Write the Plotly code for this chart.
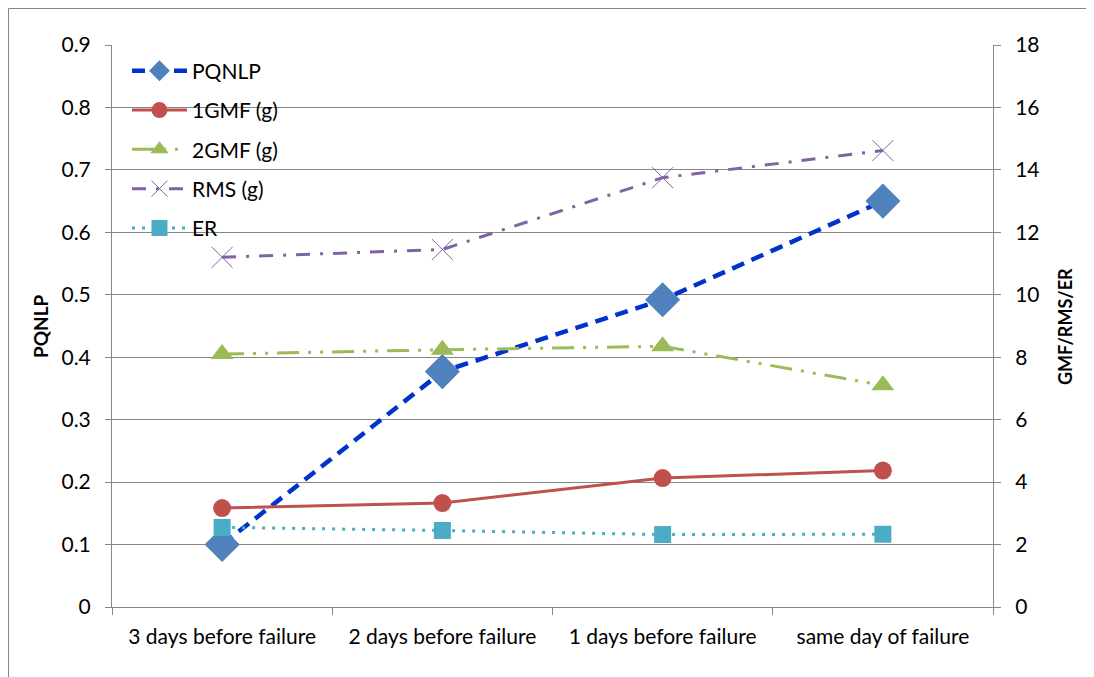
import plotly.graph_objects as go

categories = ["3 days before failure", "2 days before failure", "1 days before failure", "same day of failure"]
pqnlp = [0.10, 0.377, 0.492, 0.65]
gmf1 = [3.17, 3.33, 4.13, 4.37]
gmf2 = [8.1, 8.24, 8.35, 7.1]
rms = [11.2, 11.45, 13.75, 14.62]
er = [2.55, 2.45, 2.32, 2.33]

FONT = "Lato"
GRID = "#868686"
FS = 21

fig = go.Figure()

fig.add_trace(go.Scatter(
    x=categories, y=pqnlp, name="PQNLP", yaxis="y", mode="lines+markers",
    line=dict(color="#0033CC", width=4.5, dash="13px,8px"),
    marker=dict(symbol="diamond", size=27, color="#4F81BD"),
    legendgroup="a"))
fig.add_trace(go.Scatter(
    x=categories, y=gmf1, name="1GMF (g)", yaxis="y2", mode="lines+markers",
    line=dict(color="#C0504D", width=3),
    marker=dict(symbol="circle", size=18, color="#C0504D"),
    legendgroup="b"))
fig.add_trace(go.Scatter(
    x=categories, y=gmf2, name="2GMF (g)", yaxis="y2", mode="lines+markers",
    line=dict(color="#9BBB59", width=3, dash="22px,9px,3px,9px,3px,9px"),
    marker=dict(symbol="triangle-up", size=20, color="#9BBB59"),
    legendgroup="c"))
fig.add_trace(go.Scatter(
    x=categories, y=rms, name="RMS (g)", yaxis="y2", mode="lines+markers",
    line=dict(color="#8064A2", width=3, dash="14px,10px,3px,10px"),
    marker=dict(symbol="x-thin", size=21, color="#8064A2", line=dict(color="#8064A2", width=1)),
    legendgroup="d"))
fig.add_trace(go.Scatter(
    x=categories, y=er, name="ER", yaxis="y2", mode="lines+markers",
    line=dict(color="#4BACC6", width=3, dash="3px,7px"),
    marker=dict(symbol="square", size=17, color="#4BACC6"),
    legendgroup="e"))

fig.update_layout(
    width=1086, height=669,
    margin=dict(l=104, r=101, t=37, b=70),
    paper_bgcolor="white", plot_bgcolor="white",
    font=dict(family=FONT, size=FS, color="#000000"),
    showlegend=True,
    legend=dict(x=0.017, y=0.99, xanchor="left", yanchor="top",
                bgcolor="rgba(0,0,0,0)", font=dict(size=FS),
                traceorder="grouped", tracegroupgap=9, itemwidth=55),
    xaxis=dict(type="category", range=[-0.5, 3.5], showgrid=False,
               showline=True, linecolor=GRID, linewidth=1,
               ticks="outside", ticklen=7, tickcolor=GRID, tickson="boundaries",
               tickfont=dict(size=FS), ticklabelstandoff=11, zeroline=False),
    yaxis=dict(range=[0, 0.9], dtick=0.1, tickformat=".1~f",
               showgrid=True, gridcolor=GRID, gridwidth=1,
               showline=True, linecolor=GRID, linewidth=1,
               ticks="outside", ticklen=6, tickcolor=GRID,
               tickfont=dict(size=FS), ticklabelstandoff=10, zeroline=False),
    yaxis2=dict(range=[0, 18], dtick=2, overlaying="y", side="right",
                showgrid=False, showline=True, linecolor=GRID, linewidth=1,
                ticks="outside", ticklen=7, tickcolor=GRID,
                tickfont=dict(size=FS), ticklabelstandoff=10, zeroline=False),
    annotations=[
        dict(text="<b>PQNLP</b>", x=-0.0817, y=0.5, xref="paper", yref="paper",
             textangle=-90, showarrow=False, font=dict(size=19),
             xanchor="center", yanchor="middle"),
        dict(text="<b>GMF/RMS/ER</b>", x=1.0817, y=0.5, xref="paper", yref="paper",
             textangle=-90, showarrow=False, font=dict(size=18),
             xanchor="center", yanchor="middle"),
    ],
    shapes=[
        dict(type="rect", xref="paper", yref="paper",
             x0=-103.5 / 881, x1=1.3, y0=-0.3, y1=(562 + 36.5) / 562,
             line=dict(color="#868686", width=1), fillcolor="rgba(0,0,0,0)", layer="below"),
    ],
)

fig.write_html("out.html")
